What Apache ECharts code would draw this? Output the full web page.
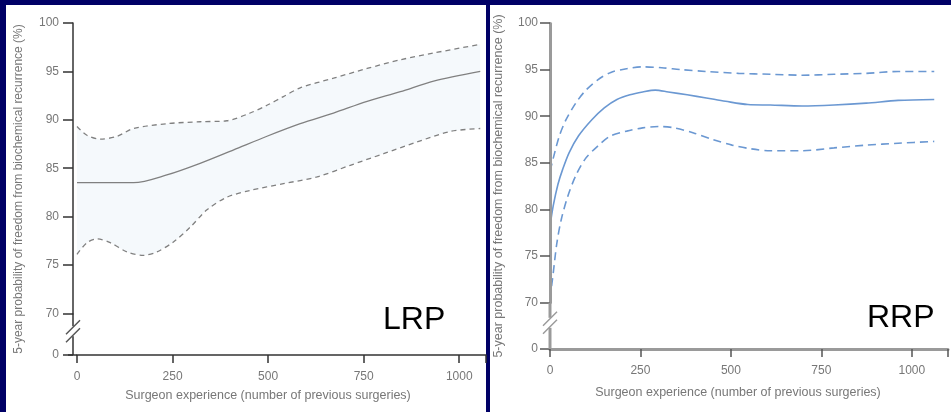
<!DOCTYPE html>
<html>
<head>
<meta charset="utf-8">
<script src="https://cdn.jsdelivr.net/npm/echarts@6/dist/echarts.min.js"></script>
<style>
  html, body { margin: 0; padding: 0; background: #000066; overflow: hidden; }
  .panel { position: absolute; background: #fff; }
  #p1 { left: 6px; top: 5px; width: 480px; height: 407px; }
  #p2 { left: 490px; top: 5px; width: 461px; height: 407px; }
  #chart { position: absolute; left: 0; top: 0; width: 951px; height: 412px; }
</style>
</head>
<body>
<div class="panel" id="p1"></div>
<div class="panel" id="p2"></div>
<div id="chart"></div>
<script>
// LRP panel
const lrpMidX = [0, 148, 235, 322, 410, 497, 584, 671, 759, 846, 933, 1055];
const lrpMid = [83.5, 83.5, 84.3, 85.5, 86.9, 88.3, 89.6, 90.7, 91.9, 92.9, 94.0, 95.0];
const lrpUpX = [0, 26, 61, 105, 148, 235, 322, 392, 453, 497, 540, 584, 671, 759, 846, 933, 1055];
const lrpUp = [89.3, 88.4, 88.0, 88.3, 89.1, 89.6, 89.8, 89.9, 90.7, 91.5, 92.4, 93.3, 94.3, 95.3, 96.2, 96.9, 97.8];
const lrpLoX = [0, 26, 52, 87, 131, 174, 209, 253, 296, 340, 392, 453, 540, 628, 715, 802, 889, 977, 1055];
const lrpLo = [76.1, 77.3, 77.7, 77.3, 76.35, 76.0, 76.35, 77.4, 78.9, 80.7, 82.0, 82.7, 83.4, 84.1, 85.3, 86.5, 87.7, 88.8, 89.1];

// RRP panel
const rrpMidX = [0, 9, 22, 35, 53, 79, 115, 150, 185, 221, 256, 291, 327, 379, 432, 485, 547, 609, 697, 785, 874, 962, 1062];
const rrpMid = [78.2, 80.4, 82.7, 84.3, 86.1, 87.9, 89.6, 90.9, 91.8, 92.3, 92.6, 92.8, 92.6, 92.3, 91.96, 91.6, 91.25, 91.2, 91.1, 91.2, 91.4, 91.7, 91.8];
const rrpUpX = [0, 13, 26, 44, 71, 97, 132, 168, 212, 256, 309, 362, 432, 521, 609, 697, 785, 874, 962, 1062];
const rrpUp = [84.1, 86.1, 87.9, 89.6, 91.4, 92.7, 93.9, 94.7, 95.1, 95.3, 95.2, 95.0, 94.8, 94.6, 94.5, 94.4, 94.5, 94.6, 94.8, 94.8];
const rrpLoX = [0, 9, 19, 31, 49, 71, 97, 132, 168, 212, 256, 300, 344, 397, 450, 503, 556, 609, 697, 785, 874, 962, 1062];
const rrpLo = [70.4, 73.2, 76.4, 78.9, 81.4, 83.6, 85.4, 86.8, 87.9, 88.4, 88.75, 88.9, 88.75, 88.2, 87.5, 86.9, 86.5, 86.3, 86.3, 86.6, 86.9, 87.1, 87.3];

const xTicks = [0, 250, 500, 750, 1000];
const yTicks = [0, 70, 75, 80, 85, 90, 95, 100];
const panelLabels = ['LRP', 'RRP'];

const xName = 'Surgeon experience (number of previous surgeries)';
const yName = '5-year probability of freedom from biochemical recurrence (%)';
const font = 'Liberation Sans';

function pairs(xs, ys) {
  return xs.map((x, i) => [x, ys[i]]);
}

function xAxisFor(idx, max, dark, padRight, gap) {
  return {
    type: 'value', gridIndex: idx, min: 0, max: max, interval: 250, z: 5,
    axisLine: { onZero: false, lineStyle: { color: dark ? '#333' : '#9a9a9a', width: dark ? 1.5 : 3 } },
    axisTick: { length: 8, lineStyle: { color: dark ? '#333' : '#555', width: 1.5 } },
    splitLine: { show: false },
    axisLabel: {
      margin: 16, color: '#777', fontFamily: font, fontSize: 12,
      formatter: v => xTicks.indexOf(v) >= 0 ? String(v) : ''
    },
    name: xName, nameLocation: 'middle', nameGap: gap,
    nameTextStyle: { color: '#777', fontFamily: font, fontSize: 12.5, padding: [0, padRight, 0, 0] }
  };
}

function yAxisFor(idx, dark, brk, gap, margin, offset, nameSize) {
  return {
    type: 'value', gridIndex: idx, min: 0, max: 100, interval: 5, z: 5, offset: offset,
    breaks: [{ start: 0, end: 70, gap: brk }],
    breakArea: { show: false },
    axisLine: { onZero: false, lineStyle: { color: dark ? '#333' : '#9a9a9a', width: dark ? 1.5 : 3 } },
    axisTick: { length: 10, lineStyle: { color: dark ? '#333' : '#555', width: 1.5 } },
    splitLine: { show: false },
    axisLabel: {
      margin: margin, color: '#777', fontFamily: font, fontSize: 12,
      formatter: v => yTicks.indexOf(v) >= 0 ? String(v) : ''
    },
    name: yName, nameLocation: 'middle', nameGap: gap,
    nameTextStyle: { color: '#777', fontFamily: font, fontSize: nameSize }
  };
}

const grayLine = { color: '#808080', width: 1.3 };
const blueLine = { color: '#6b98d2', width: 1.6 };
const yOffsets = [4, 0];

const chart = echarts.init(document.getElementById('chart'));
const option = {
  animation: false,
  grid: [
    { left: 77, top: 23, right: 465, bottom: 57 },
    { left: 550, top: 23, right: -14.5, bottom: 63 }
  ],
  xAxis: [xAxisFor(0, 1070, true, 27, 34), xAxisFor(1, 1100, false, 22, 37)],
  yAxis: [yAxisFor(0, true, 4.3, 48, 14, yOffsets[0], 12), yAxisFor(1, false, 4.97, 45, 12, yOffsets[1], 12.5)],
  series: [
    {
      name: 'LRP upper', type: 'line', xAxisIndex: 0, yAxisIndex: 0, showSymbol: false,
      smooth: 0.3, data: pairs(lrpUpX, lrpUp),
      lineStyle: Object.assign({ type: [5, 4] }, grayLine),
      areaStyle: { color: '#f5f9fc', origin: 'start', opacity: 1 }, z: 2
    },
    {
      name: 'LRP lower', type: 'line', xAxisIndex: 0, yAxisIndex: 0, showSymbol: false,
      smooth: 0.3, data: pairs(lrpLoX, lrpLo),
      lineStyle: Object.assign({ type: [5, 4] }, grayLine),
      areaStyle: { color: '#ffffff', origin: 'start', opacity: 1 }, z: 3
    },
    {
      name: 'LRP', type: 'line', xAxisIndex: 0, yAxisIndex: 0, showSymbol: false,
      smooth: 0.3, data: pairs(lrpMidX, lrpMid),
      lineStyle: grayLine, z: 4
    },
    {
      name: 'RRP upper', type: 'line', xAxisIndex: 1, yAxisIndex: 1, showSymbol: false,
      smooth: 0.3, data: pairs(rrpUpX, rrpUp),
      lineStyle: Object.assign({ type: [8, 5] }, blueLine)
    },
    {
      name: 'RRP', type: 'line', xAxisIndex: 1, yAxisIndex: 1, showSymbol: false,
      smooth: 0.3, data: pairs(rrpMidX, rrpMid),
      lineStyle: blueLine
    },
    {
      name: 'RRP lower', type: 'line', xAxisIndex: 1, yAxisIndex: 1, showSymbol: false,
      smooth: 0.3, data: pairs(rrpLoX, rrpLo),
      lineStyle: Object.assign({ type: [8, 5] }, blueLine)
    }
  ]
};
chart.setOption(option);

// axis line across the break, the break marks, and the panel labels
const graphics = [];
[0, 1].forEach(i => {
  const x0 = chart.convertToPixel({ xAxisIndex: i }, 0);
  const ax = x0 - yOffsets[i];
  const yTop = chart.convertToPixel({ yAxisIndex: i }, 70);
  const yBot = chart.convertToPixel({ yAxisIndex: i }, 0);
  const mid = (yTop + yBot) / 2 - 3;
  const col = i === 0 ? '#333' : '#9a9a9a';
  const w = i === 0 ? 1.5 : 3;
  graphics.push({ type: 'line', z: 99, shape: { x1: ax, y1: yTop, x2: ax, y2: yBot }, style: { stroke: col, lineWidth: w } });
  if (yOffsets[i]) {
    graphics.push({ type: 'line', z: 99, shape: { x1: ax - 5, y1: yBot, x2: x0, y2: yBot }, style: { stroke: col, lineWidth: w } });
  }
  graphics.push({ type: 'rect', z: 100, shape: { x: ax - 3, y: mid - 5, width: 6, height: 10 }, style: { fill: '#fff' } });
  [-4, 4].forEach(d => {
    graphics.push({
      type: 'line', z: 101,
      shape: { x1: ax - 7, y1: mid + d + 7, x2: ax + 7, y2: mid + d - 7 },
      style: { stroke: i === 0 ? '#555' : '#9a9a9a', lineWidth: 1.5 }
    });
  });
});
graphics.push({ type: 'text', z: 101, x: 383, y: 320, style: { text: panelLabels[0], font: '32px "Liberation Sans", Arial', fill: '#000', verticalAlign: 'middle' } });
graphics.push({ type: 'text', z: 101, x: 867, y: 318, style: { text: panelLabels[1], font: '32px "Liberation Sans", Arial', fill: '#000', verticalAlign: 'middle' } });
chart.setOption({ graphic: graphics });
</script>
</body>
</html>
